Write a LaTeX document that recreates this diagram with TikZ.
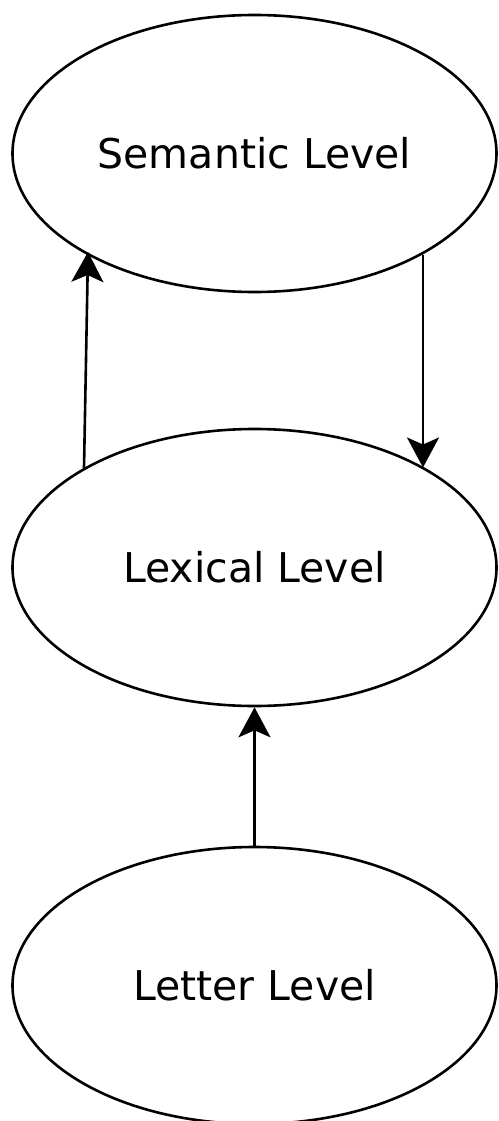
\documentclass[tikz,border=0pt]{standalone}
\usepackage{fontspec}
\setmainfont{DejaVu Sans}
\usetikzlibrary{arrows.meta,shapes.geometric,calc}
\begin{document}
\begin{tikzpicture}[x=1pt,y=-1pt,
  level/.style={draw, ellipse, line width=2.6pt, minimum width=484pt, minimum height=277pt, inner sep=0pt, font=\fontsize{41}{49}\selectfont},
  conn/.style={line width=2.6pt, -{Stealth[length=30pt, width=32pt, inset=7pt]}}]
\useasboundingbox (0,0) rectangle (498,1121);
\node[level] (sem) at (254.5,153.5) {Semantic Level};
\node[level] (lex) at (254.5,567.5) {Lexical Level};
\node[level] (let) at (254.5,985.5) {Letter Level};
\draw[conn] ($(lex.center)+(-170.5,-99.5)$) -- ($(sem.center)+(-166.5,98.5)$);
\draw[conn] ($(sem.center)+(168.5,101)$) -- ($(lex.center)+(168.5,-100)$);
\draw[conn] (let.north) -- (lex.south);
\end{tikzpicture}
\end{document}
